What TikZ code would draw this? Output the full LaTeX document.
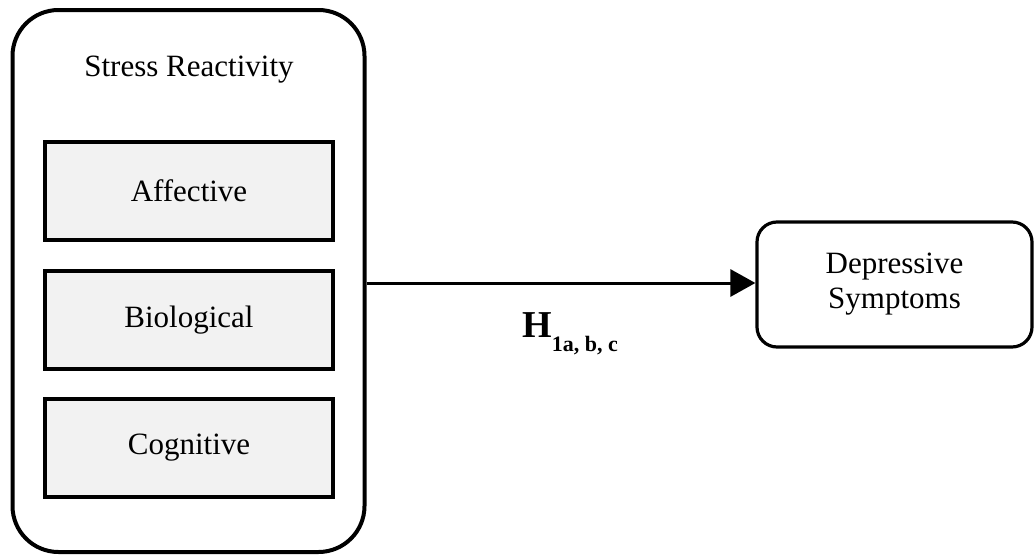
\documentclass[tikz,border=0pt]{standalone}
\usepackage{fontspec}
\setmainfont{Liberation Serif}
\usetikzlibrary{arrows.meta}
\definecolor{facetgray}{RGB}{242,242,242}
\begin{document}
\begin{tikzpicture}[x=0.5pt,y=-0.5pt,
    every node/.style={font=\fontsize{15.5}{17.5}\selectfont},
    group/.style={draw,line width=2pt,rounded corners=23pt,minimum width=176pt,minimum height=271pt},
    facet/.style={draw,line width=2pt,fill=facetgray,minimum width=144pt,minimum height=49pt},
    outcome/.style={draw,line width=1.6pt,rounded corners=10pt,align=center,minimum width=137.5pt,minimum height=62.5pt}]
    \useasboundingbox (0,0) rectangle (1034,557);
    % predictor block with its three facets
    \node[group] (reactivity) at (188.5,281) {};
    \node (title) at (189,70) {Stress Reactivity};
    \node[facet] (affective) at (189,191) {Affective};
    \node[facet] (biological) at (189,320) {Biological};
    \node[facet] (cognitive) at (189,447.5) {Cognitive};
    % outcome
    \node[outcome] (symptoms) at (894.5,284.5) {Depressive\\Symptoms};
    \draw[line width=1.5pt,-{Triangle[length=12.5pt,width=13.5pt]}] (reactivity.east |- 0,283) -- (symptoms.west |- 0,283);
    \node[anchor=base west,inner sep=0pt] (hyp) at (522,337)
        {{\fontsize{19}{19}\selectfont\bfseries H}\raisebox{-7pt}{\fontsize{11}{11}\selectfont\bfseries 1a, b, c}};
\end{tikzpicture}
\end{document}
